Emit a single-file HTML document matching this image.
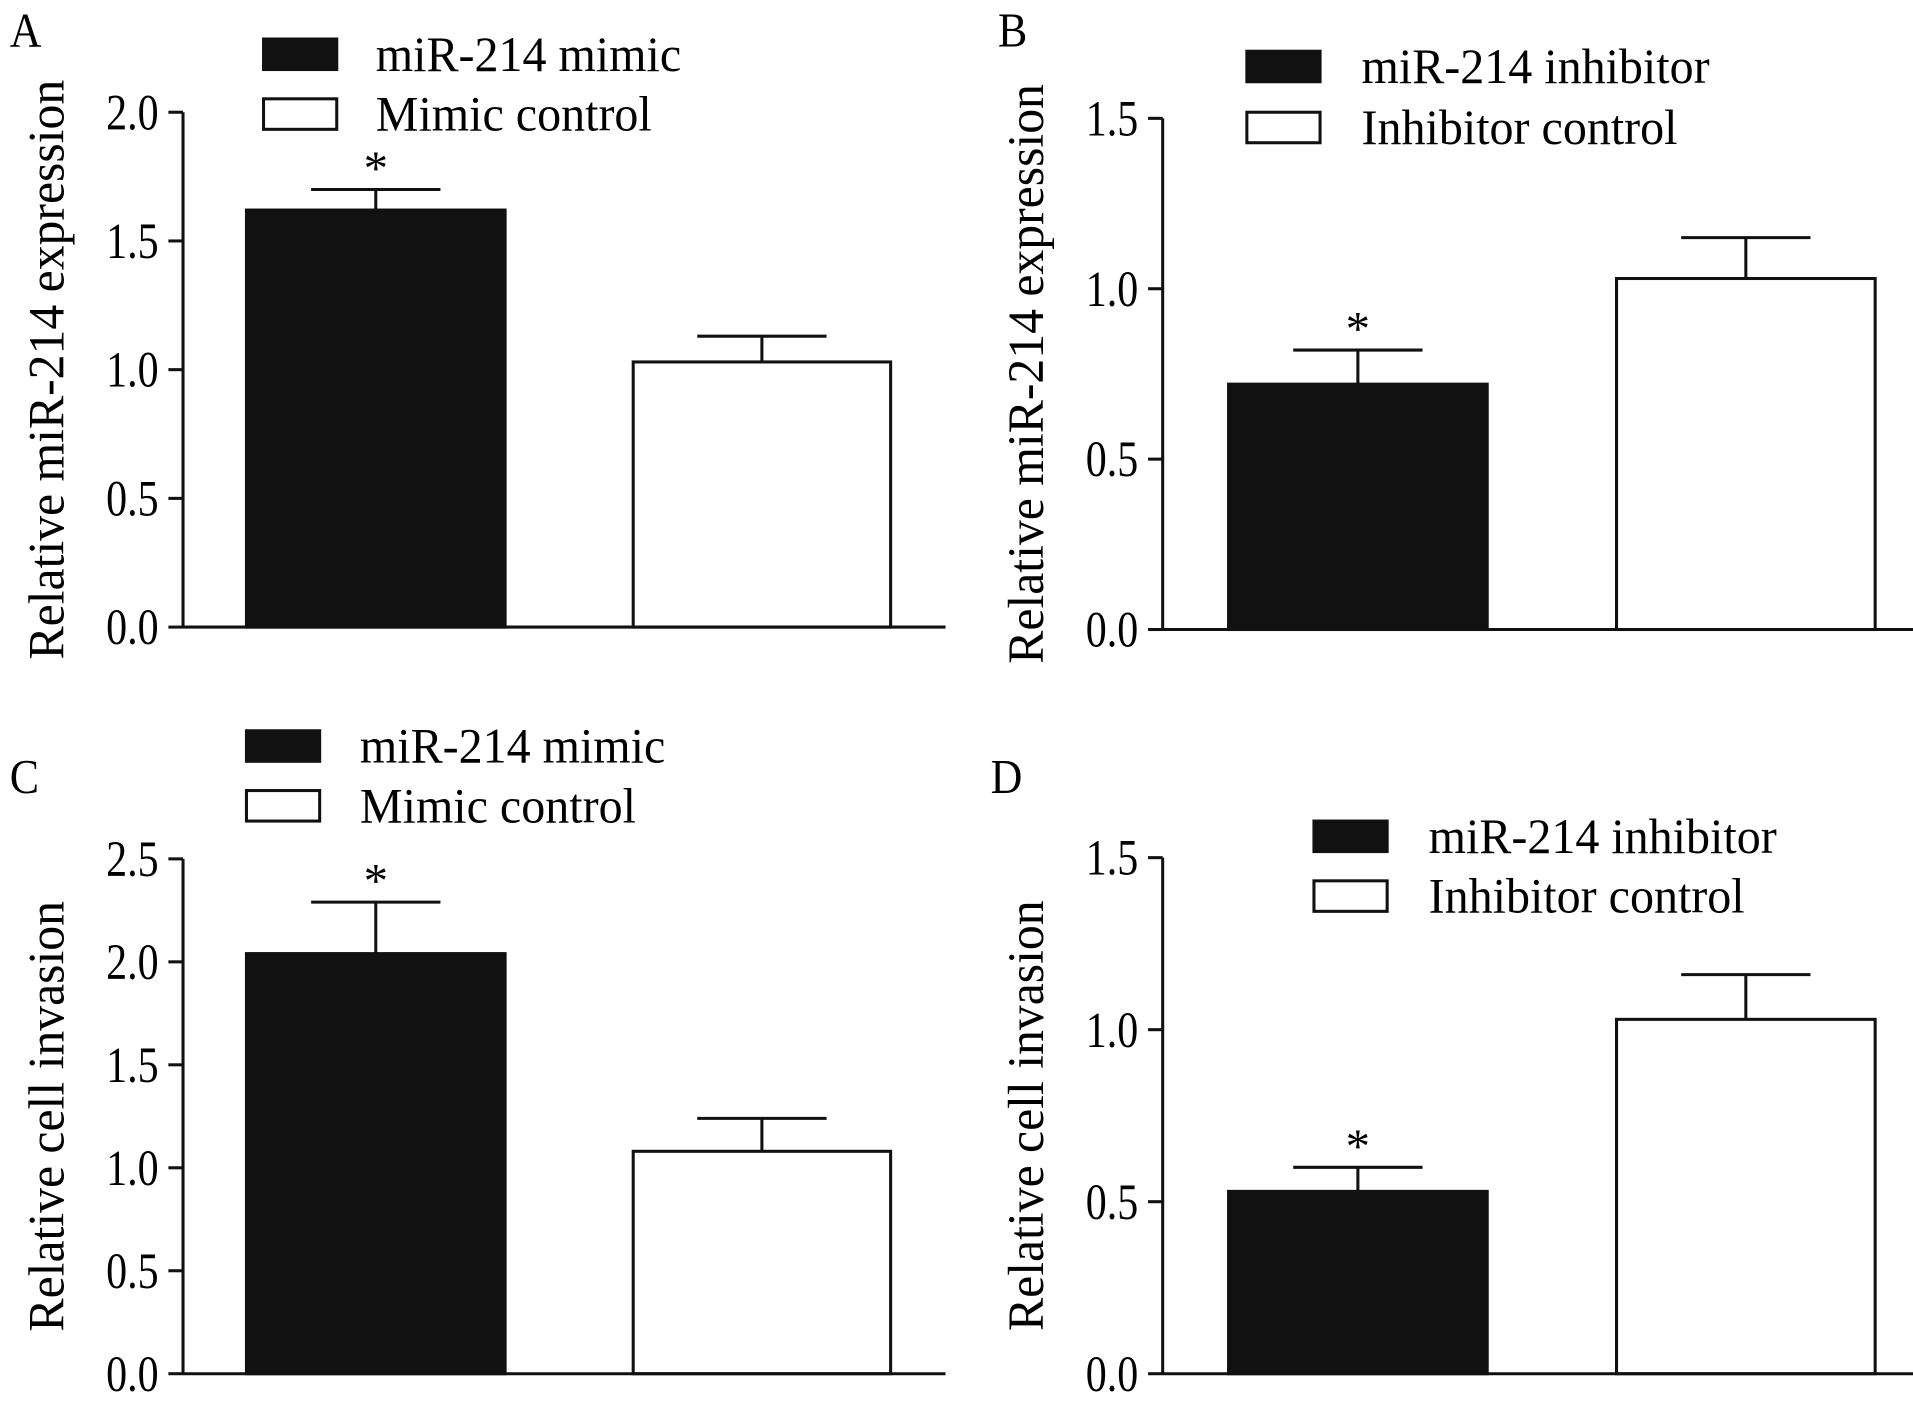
<!DOCTYPE html>
<html><head><meta charset="utf-8"><style>
html,body{margin:0;padding:0;background:#fff;}
svg{display:block;font-family:"Liberation Serif",serif;}
</style></head><body>
<svg id="fig" width="1913" height="1403" viewBox="0 0 1568 1150" xmlns="http://www.w3.org/2000/svg"></svg>
<script>
const panelLetters = ["A","B","C","D"];
const categoriesAB = ["miR-214 mimic","Mimic control"];
const categoriesB = ["miR-214 inhibitor","Inhibitor control"];
const valuesA = [1.62, 1.03];
const errorsA = [0.08, 0.10];
const valuesB = [0.72, 1.03];
const errorsB = [0.10, 0.12];
const valuesC = [2.04, 1.08];
const errorsC = [0.25, 0.16];
const valuesD = [0.53, 1.03];
const errorsD = [0.07, 0.13];
const ticksA = ["0.0","0.5","1.0","1.5","2.0"];
const ticksB = ["0.0","0.5","1.0","1.5"];
const ticksC = ["0.0","0.5","1.0","1.5","2.0","2.5"];
const ticksD = ["0.0","0.5","1.0","1.5"];
const yTitles = ["Relative miR-214 expression","Relative miR-214 expression","Relative cell invasion","Relative cell invasion"];
const significant = [[true,false],[true,false],[true,false],[true,false]];

const NS="http://www.w3.org/2000/svg";
const svg=document.getElementById('fig');
function mk(tag,attrs,parent){const e=document.createElementNS(NS,tag);for(const k in attrs)e.setAttribute(k,attrs[k]);(parent||svg).appendChild(e);return e;}
function txt(x,y,s,size,sx,anchor,parent,rot){
  const t=mk('text',{x:0,y:0,'font-size':size,'text-anchor':anchor||'start',transform:`translate(${x},${y})${rot?' rotate(-90)':''} scale(${sx},1)`},parent);
  t.textContent=s;return t;
}

const layouts=[
 {ax:150,y0:514,yTop:92,xEnd:775,bars:[[202,414],[519,730]],lx:216,ly:[32,81],tx:308,letter:[8,38],title:categoriesAB,vals:valuesA,errs:errorsA,ticks:ticksA,tcx:52},
 {ax:953,y0:516,yTop:97,xEnd:1580,bars:[[1007,1219],[1325,1537]],lx:1022,ly:[42,92],tx:1116,letter:[818,38],title:categoriesB,vals:valuesB,errs:errorsB,ticks:ticksB,tcx:855},
 {ax:150,y0:1126,yTop:704,xEnd:775,bars:[[202,414],[519,730]],lx:202,ly:[599,648],tx:295,letter:[8,650],title:categoriesAB,vals:valuesC,errs:errorsC,ticks:ticksC,tcx:52},
 {ax:953,y0:1126,yTop:703,xEnd:1580,bars:[[1007,1219],[1325,1537]],lx:1077,ly:[673,722],tx:1171,letter:[812,650],title:categoriesB,vals:valuesD,errs:errorsD,ticks:ticksD,tcx:855}
];

layouts.forEach((L,p)=>{
  const g=mk('g',{});
  
  
  const maxV=parseFloat(L.ticks[L.ticks.length-1]);
  const y=v=>L.y0-(v/maxV)*(L.y0-L.yTop);
  const let_=txt(L.letter[0],L.letter[1],panelLetters[p],40,0.9,'start',g);
  
  
  L.vals.forEach((v,i)=>{
    const [x1,x2]=L.bars[i];const cx=(x1+x2)/2;const top=y(v),et=y(v+L.errs[i]);
    mk('line',{x1:cx,x2:cx,y1:top,y2:et,stroke:'#111','stroke-width':2.5},g);
    mk('line',{x1:cx-53,x2:cx+53,y1:et,y2:et,stroke:'#111','stroke-width':2.5},g);
    const r=mk('rect',{x:x1,y:top,width:x2-x1,height:L.y0-top,fill:i==0?'#111':'#fff',stroke:'#111','stroke-width':2.5},g);
    
    
    if(significant[p][i]){const s=txt(cx,et-4,'*',40,1,'middle',g);
      
      }
  });
  const ya=mk('line',{x1:L.ax,x2:L.ax,y1:L.yTop,y2:L.y0+1,stroke:'#111','stroke-width':2.5},g);
  
  
  const xa=mk('line',{x1:L.ax,x2:L.xEnd,y1:L.y0,y2:L.y0,stroke:'#111','stroke-width':2.5},g);
  
  
  L.ticks.forEach(t=>{const ty=y(parseFloat(t));
    mk('line',{x1:L.ax-12,x2:L.ax,y1:ty,y2:ty,stroke:'#111','stroke-width':2.5},g);
    const tl=txt(L.ax-20,ty+14,t,42,0.82,'end',g);
    
    
  });
  const ty=txt(L.tcx,(L.y0+L.yTop)/2,yTitles[p],42,0.97,'middle',g,true);
  
  
  L.ly.forEach((ly,i)=>{
    const r=mk('rect',{x:L.lx,y:ly,width:60,height:25,fill:i==0?'#111':'#fff',stroke:'#111','stroke-width':2.5},g);
    
    
    const t=txt(L.tx,ly+26,L.title[i],41,0.96,'start',g);
    
    
  });
});
</script>
</body></html>
